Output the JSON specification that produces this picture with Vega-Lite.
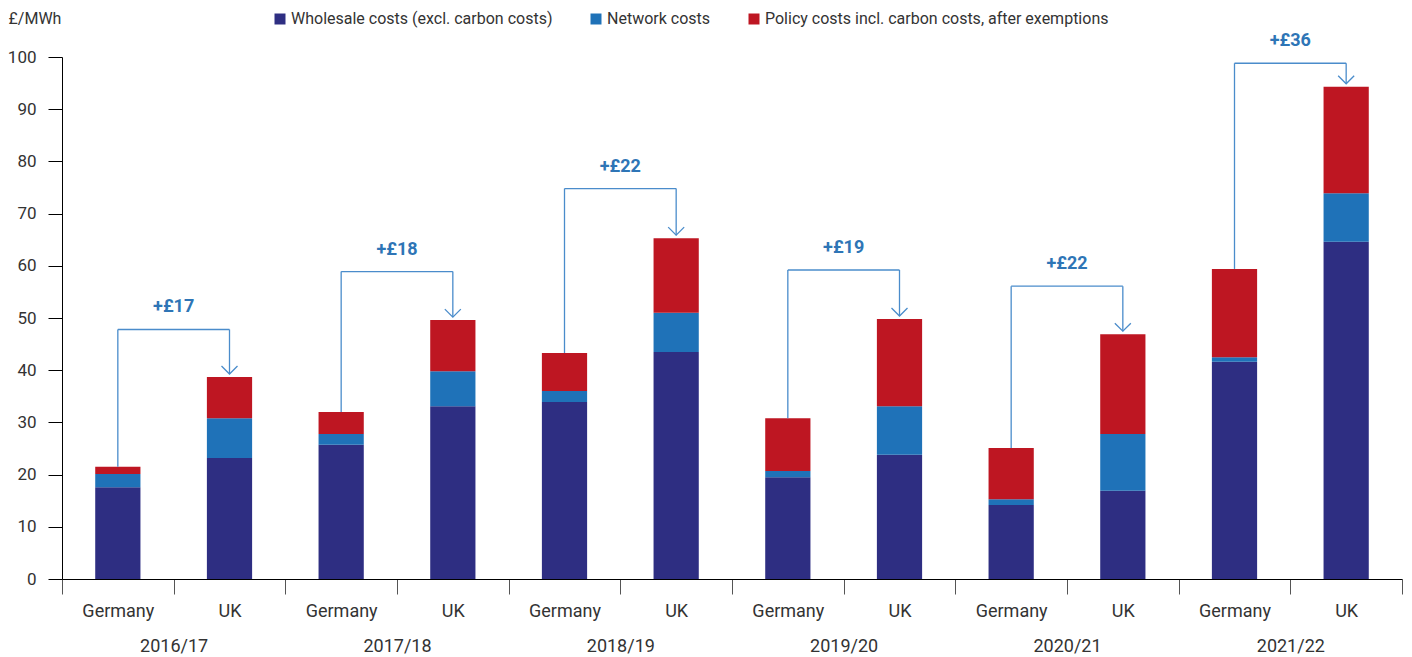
{
  "$schema": "https://vega.github.io/schema/vega-lite/v6.json",
  "width": 1340,
  "height": 522,
  "autosize": {"type": "none"},
  "padding": {"left": 62, "top": 57, "right": 10, "bottom": 78},
  "background": "white",
  "config": {
    "font": "Roboto",
    "view": {"stroke": null},
    "axis": {"labelFont": "Roboto", "labelFontSize": 17, "labelColor": "#333333", "grid": false, "domainColor": "#000000", "domainWidth": 1, "tickColor": "#333333", "tickWidth": 1},
    "legend": {"labelFont": "Roboto", "labelFontSize": 16, "labelColor": "#333333", "labelLimit": 500}
  },
  "datasets": {
    "bars": [
      {"bar": "2016/17 Germany", "cost": "Wholesale costs (excl. carbon costs)", "stack": 1, "value": 17.6},
      {"bar": "2016/17 Germany", "cost": "Network costs", "stack": 2, "value": 2.5},
      {"bar": "2016/17 Germany", "cost": "Policy costs incl. carbon costs, after exemptions", "stack": 3, "value": 1.4},
      {"bar": "2016/17 UK", "cost": "Wholesale costs (excl. carbon costs)", "stack": 1, "value": 23.2},
      {"bar": "2016/17 UK", "cost": "Network costs", "stack": 2, "value": 7.6},
      {"bar": "2016/17 UK", "cost": "Policy costs incl. carbon costs, after exemptions", "stack": 3, "value": 7.9},
      {"bar": "2017/18 Germany", "cost": "Wholesale costs (excl. carbon costs)", "stack": 1, "value": 25.7},
      {"bar": "2017/18 Germany", "cost": "Network costs", "stack": 2, "value": 2.1},
      {"bar": "2017/18 Germany", "cost": "Policy costs incl. carbon costs, after exemptions", "stack": 3, "value": 4.2},
      {"bar": "2017/18 UK", "cost": "Wholesale costs (excl. carbon costs)", "stack": 1, "value": 33.1},
      {"bar": "2017/18 UK", "cost": "Network costs", "stack": 2, "value": 6.7},
      {"bar": "2017/18 UK", "cost": "Policy costs incl. carbon costs, after exemptions", "stack": 3, "value": 9.8},
      {"bar": "2018/19 Germany", "cost": "Wholesale costs (excl. carbon costs)", "stack": 1, "value": 33.9},
      {"bar": "2018/19 Germany", "cost": "Network costs", "stack": 2, "value": 2.1},
      {"bar": "2018/19 Germany", "cost": "Policy costs incl. carbon costs, after exemptions", "stack": 3, "value": 7.3},
      {"bar": "2018/19 UK", "cost": "Wholesale costs (excl. carbon costs)", "stack": 1, "value": 43.5},
      {"bar": "2018/19 UK", "cost": "Network costs", "stack": 2, "value": 7.5},
      {"bar": "2018/19 UK", "cost": "Policy costs incl. carbon costs, after exemptions", "stack": 3, "value": 14.3},
      {"bar": "2019/20 Germany", "cost": "Wholesale costs (excl. carbon costs)", "stack": 1, "value": 19.5},
      {"bar": "2019/20 Germany", "cost": "Network costs", "stack": 2, "value": 1.2},
      {"bar": "2019/20 Germany", "cost": "Policy costs incl. carbon costs, after exemptions", "stack": 3, "value": 10.1},
      {"bar": "2019/20 UK", "cost": "Wholesale costs (excl. carbon costs)", "stack": 1, "value": 23.8},
      {"bar": "2019/20 UK", "cost": "Network costs", "stack": 2, "value": 9.3},
      {"bar": "2019/20 UK", "cost": "Policy costs incl. carbon costs, after exemptions", "stack": 3, "value": 16.7},
      {"bar": "2020/21 Germany", "cost": "Wholesale costs (excl. carbon costs)", "stack": 1, "value": 14.2},
      {"bar": "2020/21 Germany", "cost": "Network costs", "stack": 2, "value": 1.1},
      {"bar": "2020/21 Germany", "cost": "Policy costs incl. carbon costs, after exemptions", "stack": 3, "value": 9.8},
      {"bar": "2020/21 UK", "cost": "Wholesale costs (excl. carbon costs)", "stack": 1, "value": 16.9},
      {"bar": "2020/21 UK", "cost": "Network costs", "stack": 2, "value": 10.9},
      {"bar": "2020/21 UK", "cost": "Policy costs incl. carbon costs, after exemptions", "stack": 3, "value": 19.1},
      {"bar": "2021/22 Germany", "cost": "Wholesale costs (excl. carbon costs)", "stack": 1, "value": 41.6},
      {"bar": "2021/22 Germany", "cost": "Network costs", "stack": 2, "value": 0.9},
      {"bar": "2021/22 Germany", "cost": "Policy costs incl. carbon costs, after exemptions", "stack": 3, "value": 16.9},
      {"bar": "2021/22 UK", "cost": "Wholesale costs (excl. carbon costs)", "stack": 1, "value": 64.6},
      {"bar": "2021/22 UK", "cost": "Network costs", "stack": 2, "value": 9.3},
      {"bar": "2021/22 UK", "cost": "Policy costs incl. carbon costs, after exemptions", "stack": 3, "value": 20.4}
    ],
    "ann": [
      {"year": "2016/17", "de": "2016/17 Germany", "uk": "2016/17 UK", "deTotal": 21.5, "ukTotal": 38.7, "bracket": 47.8, "label": "+£17"},
      {"year": "2017/18", "de": "2017/18 Germany", "uk": "2017/18 UK", "deTotal": 32.0, "ukTotal": 49.6, "bracket": 58.9, "label": "+£18"},
      {"year": "2018/19", "de": "2018/19 Germany", "uk": "2018/19 UK", "deTotal": 43.3, "ukTotal": 65.3, "bracket": 74.8, "label": "+£22"},
      {"year": "2019/20", "de": "2019/20 Germany", "uk": "2019/20 UK", "deTotal": 30.8, "ukTotal": 49.8, "bracket": 59.2, "label": "+£19"},
      {"year": "2020/21", "de": "2020/21 Germany", "uk": "2020/21 UK", "deTotal": 25.1, "ukTotal": 46.9, "bracket": 56.1, "label": "+£22"},
      {"year": "2021/22", "de": "2021/22 Germany", "uk": "2021/22 UK", "deTotal": 59.4, "ukTotal": 94.3, "bracket": 98.8, "label": "+£36"}
    ],
    "years": [
      {"year": "2016/17"}, {"year": "2017/18"}, {"year": "2018/19"},
      {"year": "2019/20"}, {"year": "2020/21"}, {"year": "2021/22"}
    ]
  },
  "layer": [
    {
      "layer": [
        {
          "data": {"name": "bars"},
          "mark": {"type": "bar", "width": {"band": 0.405}},
          "encoding": {
            "x": {
              "field": "bar", "type": "nominal",
              "scale": {"paddingInner": 0, "paddingOuter": 0},
              "axis": {"title": null, "orient": "bottom", "labelAngle": 0, "labelExpr": "split(datum.label, ' ')[1]", "tickBand": "extent", "tickSize": 15, "labelPadding": 8, "labelFontSize": 18, "tickColor": "#555555"}
            },
            "y": {
              "field": "value", "type": "quantitative", "stack": "zero",
              "scale": {"domain": [0, 100], "nice": false},
              "axis": {
                "title": "£/MWh", "titleAngle": 0, "titleAlign": "left", "titleBaseline": "middle",
                "titleX": -54, "titleY": -39, "titleFontSize": 16, "titleFontWeight": "normal", "titleColor": "#333333", "titleFont": "Roboto",
                "values": [0, 10, 20, 30, 40, 50, 60, 70, 80, 90, 100],
                "tickSize": 14, "labelPadding": 12, "tickColor": "#000000"
              }
            },
            "color": {
              "field": "cost", "type": "nominal",
              "scale": {
                "domain": ["Wholesale costs (excl. carbon costs)", "Network costs", "Policy costs incl. carbon costs, after exemptions"],
                "range": ["#2e2e82", "#1f72b8", "#be1622"]
              },
              "legend": {"title": null, "orient": "none", "direction": "horizontal", "legendX": 210, "legendY": -46, "symbolType": "square", "symbolSize": 121, "symbolStrokeWidth": 0, "columnPadding": 35, "labelOffset": 3}
            },
            "order": {"field": "stack", "type": "quantitative"}
          }
        },
        {
          "data": {"name": "ann"},
          "mark": {"type": "rule", "color": "#4a8ccb", "strokeWidth": 1.3},
          "encoding": {
            "x": {"field": "de", "type": "nominal"},
            "y": {"field": "deTotal", "type": "quantitative"},
            "y2": {"field": "bracket"}
          }
        },
        {
          "data": {"name": "ann"},
          "mark": {"type": "rule", "color": "#4a8ccb", "strokeWidth": 1.3},
          "encoding": {
            "x": {"field": "de", "type": "nominal"},
            "x2": {"field": "uk"},
            "y": {"field": "bracket", "type": "quantitative"}
          }
        },
        {
          "data": {"name": "ann"},
          "mark": {"type": "rule", "color": "#4a8ccb", "strokeWidth": 1.3, "y2Offset": -3},
          "encoding": {
            "x": {"field": "uk", "type": "nominal"},
            "y": {"field": "bracket", "type": "quantitative"},
            "y2": {"field": "ukTotal"}
          }
        },
        {
          "data": {"name": "ann"},
          "mark": {"type": "point", "shape": "M-1,-1L0,0L1,-1", "size": 256, "filled": false, "stroke": "#4a8ccb", "strokeWidth": 1.3, "opacity": 1, "yOffset": -3},
          "encoding": {
            "x": {"field": "uk", "type": "nominal"},
            "y": {"field": "ukTotal", "type": "quantitative"}
          }
        },
        {
          "data": {"name": "ann"},
          "mark": {"type": "text", "fontSize": 18, "fontWeight": "bold", "color": "#2e75b6", "dy": -22, "align": "center", "baseline": "middle"},
          "encoding": {
            "x": {"field": "uk", "type": "nominal", "bandPosition": 0},
            "y": {"field": "bracket", "type": "quantitative"},
            "text": {"field": "label"}
          }
        }
      ]
    },
    {
      "data": {"name": "years"},
      "mark": {"type": "text", "opacity": 0},
      "encoding": {
        "x": {
          "field": "year", "type": "nominal",
          "scale": {"paddingInner": 0, "paddingOuter": 0},
          "axis": {"title": null, "orient": "bottom", "labelAngle": 0, "domain": false, "ticks": false, "labelPadding": 58, "labelFontSize": 18}
        },
        "text": {"value": ""}
      }
    }
  ],
  "resolve": {"scale": {"x": "independent"}, "axis": {"x": "independent"}}
}
